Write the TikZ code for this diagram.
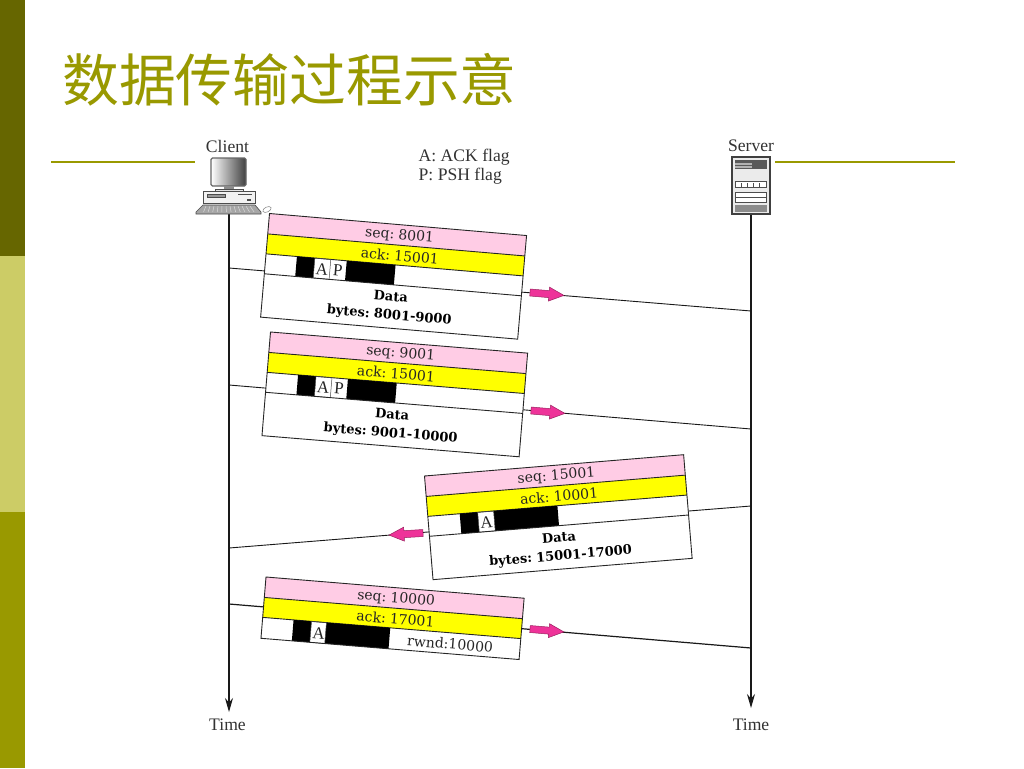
\documentclass[tikz,border=0pt]{standalone}
\usepackage{fontspec}
\setmainfont{Liberation Serif}
\newfontfamily\pktfont[WordSpace=0.6]{DejaVu Serif}
\newfontfamily\cjkfont{Noto Sans CJK SC}
\definecolor{olivedark}{HTML}{666600}
\definecolor{olivelight}{HTML}{CCCC66}
\definecolor{olivemid}{HTML}{999900}
\definecolor{bandpink}{HTML}{FFCCE5}
\definecolor{bandyellow}{HTML}{FFFF00}
\definecolor{arrowpink}{HTML}{EE3399}
\definecolor{arrowedge}{HTML}{99225F}
\usetikzlibrary{arrows.meta}
\tikzset{
  pktedge/.style={draw=black!85,line width=0.9pt},
  pkttext/.style={font=\pktfont\fontsize{14}{16}\selectfont,text=black!85,inner sep=0pt,transform shape},
  pktbold/.style={font=\pktfont\bfseries\fontsize{13}{15}\selectfont,text=black,inner sep=0pt,transform shape},
  flagtext/.style={font=\fontsize{17}{19}\selectfont,text=black!85,inner sep=0pt,transform shape},
  plain/.style={font=\fontsize{17.6}{20}\selectfont,text=black!80,inner sep=0pt},
  wire/.style={draw=black!90,line width=0.9pt},
  timeline/.style={draw=black!90,line width=1.1pt,-{Stealth[length=14pt,width=8pt]}},
  rulegreen/.style={draw=olivemid,line width=1.8pt},
  parrow/.style={fill=arrowpink,draw=arrowedge,line width=0.5pt},
  iconedge/.style={draw=black!70,line width=0.6pt}
}
% frame: name, width, height, seq, ack, ack centre
\newcommand{\pktframe}[6]{%
  \fill[white] (0,0) rectangle (#2,#3);
  \fill[bandpink] (0,0) rectangle (#2,20.5);
  \fill[bandyellow] (0,20.5) rectangle (#2,40.5);
  \draw[pktedge] (0,20.5) -- (#2,20.5) (0,40.5) -- (#2,40.5);
  \node[pkttext] (#1seq) at (131.5,11) {#4};
  \node[pkttext] (#1ack) at (#6,31) {#5};
}
\newcommand{\pktarrow}[4]{% name, x, y, rot (tail point, pointing +u)
  \begin{scope}[shift={(#2,#3)},rotate=#4]
    \draw[parrow] (0,-3.5) -- (19,-3.5) -- (19,-7) -- (34,0) -- (19,7) -- (19,3.5) -- (0,3.5) -- cycle;
    \coordinate (#1) at (17,0);
  \end{scope}
}
\begin{document}
\begin{tikzpicture}[x=1pt,y=-1pt]
\useasboundingbox (0,0) rectangle (1024,768);
\fill[white] (0,0) rectangle (1024,768);
\fill[olivedark] (0,0) rectangle (25,256);
\fill[olivelight] (0,256) rectangle (25,512);
\fill[olivemid] (0,512) rectangle (25,768);
\node[anchor=west,inner sep=0pt,text=olivemid,font=\cjkfont\fontsize{56.8}{60}\selectfont] (title) at (62,80) {数据传输过程示意};

% header
\node[plain] (client) at (227.5,146) {Client};
\node[plain] (server) at (751,145.5) {Server};
\node[plain,anchor=west] (legendA) at (418.5,157) {A: ACK flag};
\node[plain,anchor=west] (legendP) at (418.5,176) {P: PSH flag};
\coordinate (ruleLa) at (51,162); \coordinate (ruleLb) at (195,162);
\coordinate (ruleRa) at (775,162); \coordinate (ruleRb) at (955,162);
\draw[rulegreen] (ruleLa) -- (ruleLb);
\draw[rulegreen] (ruleRa) -- (ruleRb);

% time lines
\coordinate (ctop) at (229,212); \coordinate (cend) at (229,712);
\coordinate (stop) at (751,212); \coordinate (send) at (751,708);
\draw[timeline] (ctop) -- (cend);
\draw[timeline] (stop) -- (send);
\node[plain] (timeC) at (227.5,724.5) {Time};
\node[plain] (timeS) at (751,724.5) {Time};

% message lines
\coordinate (c1) at (229,268); \coordinate (s1) at (751,311);
\coordinate (c2) at (229,385); \coordinate (s2) at (751,429);
\coordinate (c3) at (229,548); \coordinate (s3) at (751,506);
\coordinate (c4) at (229,604); \coordinate (s4) at (751,648);
\draw[wire] (c1) -- (s1);
\draw[wire] (c2) -- (s2);
\draw[wire] (s3) -- (c3);
\draw[wire,line width=1.2pt] (c4) -- (s4);

% client icon
\shade[left color=white,right color=black!75,draw=black!60,line width=1.2pt,rounded corners=1.5pt] (211,158) rectangle (246,186);
\fill[black!45] (224,186) rectangle (234,189);
\draw[iconedge,fill=black!10] (215,189) rectangle (243,191);
\draw[iconedge,fill=black!5] (203,191) rectangle (255,203);
\draw[iconedge,fill=black!40] (207,194) rectangle (225,197);
\draw[iconedge] (238,194) -- (252,194);
\fill[black!70] (247,199) rectangle (251,201);
\draw[iconedge,fill=black!35] (203,205) -- (255,205) -- (261,212) -- (261,214) -- (196,214) -- (196,212) -- cycle;
\foreach \k in {0,...,11}{\draw[black!15,line width=0.5pt] ({206+\k*4},206) -- ({203.5+\k*4.6},212);}
\draw[black!50,line width=0.5pt,fill=white,rotate around={25:(267,209.5)}] (267,209.5) ellipse (4.5 and 2.5);

% server icon
\draw[draw=black!75,fill=black!8,line width=1.2pt] (732,157) rectangle (770,214);
\fill[black!65] (735,160) rectangle (767,169);
\fill[black!30] (735,163) rectangle (752,164.5); \fill[black!30] (735,166) rectangle (752,167.5);
\draw[iconedge,fill=white] (735,181) rectangle (766,187);
\foreach \k in {0,...,3}{\draw[black!70,line width=0.5pt] ({741+\k*6},183) -- ({741+\k*6},187);}
\draw[iconedge,fill=white] (735,192) rectangle (766,202);
\draw[iconedge] (735,197) -- (766,197);
\fill[black!45] (735,205) rectangle (767,212);

% packet 1
\begin{scope}[shift={(269.5,213.5)},rotate=-4.9]
  \pktframe{p1}{258}{104}{seq: 8001}{ack: 15001}{133.5}
  \fill[black] (31,40.5) rectangle (49,60.5);
  \fill[black] (81,40.5) rectangle (130,60.5);
  \draw[black!70,line width=0.5pt] (49,40.5) rectangle (65,60.5) (65,40.5) -- (65,60.5);
  \node[flagtext] (p1A) at (57,51) {A};
  \node[flagtext] (p1P) at (73,51) {P};
  \draw[pktedge] (0,60.5) -- (258,60.5);
  \draw[pktedge] (0,0) rectangle (258,104);
  \node[pktbold] (p1data) at (128,72) {Data};
  \node[pktbold] (p1bytes) at (128,91.5) {bytes: 8001-9000};
\end{scope}
\pktarrow{a1}{530}{292.5}{-4.9}

% packet 2
\begin{scope}[shift={(270.5,332)},rotate=-4.7]
  \pktframe{p2}{258}{104}{seq: 9001}{ack: 15001}{128.5}
  \fill[black] (31,40.5) rectangle (49,60.5);
  \fill[black] (81,40.5) rectangle (130,60.5);
  \draw[black!70,line width=0.5pt] (49,40.5) rectangle (65,60.5) (65,40.5) -- (65,60.5);
  \node[flagtext] (p2A) at (57,51) {A};
  \node[flagtext] (p2P) at (73,51) {P};
  \draw[pktedge] (0,60.5) -- (258,60.5);
  \draw[pktedge] (0,0) rectangle (258,104);
  \node[pktbold] (p2data) at (128,72) {Data};
  \node[pktbold] (p2bytes) at (128,91.5) {bytes: 9001-10000};
\end{scope}
\pktarrow{a2}{531}{410.5}{-4.9}

% packet 3
\begin{scope}[shift={(424.5,476)},rotate=4.7]
  \pktframe{p3}{260}{104}{seq: 15001}{ack: 10001}{132.5}
  \fill[black] (32,40.5) rectangle (50,60.5);
  \fill[black] (66,40.5) rectangle (130,60.5);
  \draw[black!70,line width=0.5pt] (50,40.5) rectangle (66,60.5);
  \node[flagtext] (p3A) at (58,51) {A};
  \draw[pktedge] (0,60.5) -- (260,60.5);
  \draw[pktedge] (0,0) rectangle (260,104);
  \node[pktbold] (p3data) at (129,72) {Data};
  \node[pktbold] (p3bytes) at (129,91.5) {bytes: 15001-17000};
\end{scope}
\pktarrow{a3}{423}{533}{183.5}

% packet 4
\begin{scope}[shift={(266,577)},rotate=-4.7]
  \pktframe{p4}{259}{61.5}{seq: 10000}{ack: 17001}{132.5}
  \fill[black] (31,40.5) rectangle (49,61.5);
  \fill[black] (64,40.5) rectangle (128,61.5);
  \draw[black!70,line width=0.5pt] (49,40.5) rectangle (64,61.5);
  \node[flagtext] (p4A) at (57,51.5) {A};
  \draw[pktedge] (0,0) rectangle (259,61.5);
  \node[pkttext] (p4rwnd) at (189,51.5) {rwnd:10000};
\end{scope}
\pktarrow{a4}{530}{629}{-4.9}
\end{tikzpicture}
\end{document}
